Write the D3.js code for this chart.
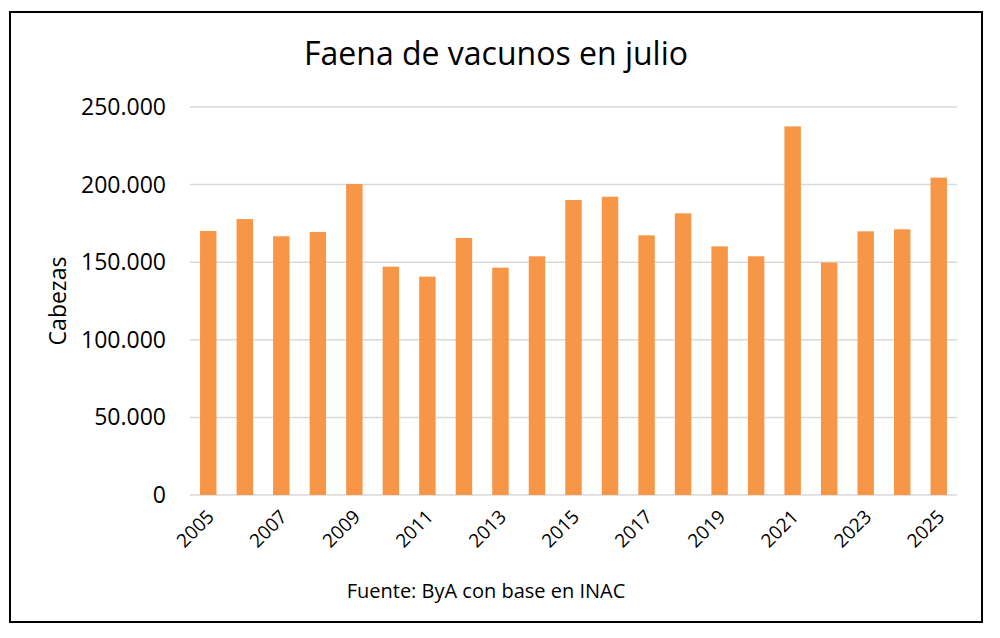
<html>
<head>
	<meta charset="utf-8">
	<script src="https://d3js.org/d3.v7.min.js"></script>
	<style>
		body { margin: 0; background: white; }
		text { font-family: "Open Sans", sans-serif; fill: #000; }
	</style>
</head>
<body>
	<div id="output"></div>
	<script>
		// data
		var years = ["2005","2006","2007","2008","2009","2010","2011","2012","2013","2014","2015",
			"2016","2017","2018","2019","2020","2021","2022","2023","2024","2025"];
		var cabezas = [170100,177800,166700,169500,200400,147100,140700,165600,146500,153800,190100,
			192200,167300,181500,160200,153800,237500,149800,169900,171200,204500];
		var yTicks = [0,50000,100000,150000,200000,250000];
		var yTickLabels = ["0","50.000","100.000","150.000","200.000","250.000"];
		var xLabelYears = ["2005","2007","2009","2011","2013","2015","2017","2019","2021","2023","2025"];

		var width = 1000, height = 638;
		var plotLeft = 190, plotRight = 957, plotTop = 107, plotBottom = 495;

		var svg = d3.select("#output")
			.append("svg")
			.attr("width", width)
			.attr("height", height);

		// frame
		svg.append("rect")
			.attr("x", 10)
			.attr("y", 12)
			.attr("width", 972)
			.attr("height", 610)
			.style("fill", "white")
			.style("stroke", "black")
			.style("stroke-width", 2);

		var x = d3.scaleBand()
			.domain(years)
			.range([plotLeft, plotRight])
			.paddingInner(0.55)
			.paddingOuter(0.275);
		var y = d3.scaleLinear()
			.domain([0, 250000])
			.range([plotBottom, plotTop]);

		// gridlines
		svg.selectAll("line.grid")
			.data(yTicks)
			.enter()
			.append("line")
			.attr("class", "grid")
			.attr("x1", plotLeft)
			.attr("x2", plotRight)
			.attr("y1", function(d){ return y(d); })
			.attr("y2", function(d){ return y(d); })
			.style("stroke", "#d9d9d9")
			.style("stroke-width", 1.5);

		// y labels
		svg.selectAll("text.ylab")
			.data(yTicks)
			.enter()
			.append("text")
			.attr("class", "ylab")
			.attr("x", 166)
			.attr("y", function(d){ return y(d) + 8; })
			.style("font-size", "23px")
			.style("text-anchor", "end")
			.text(function(d, i){ return yTickLabels[i]; });

		// bars
		svg.selectAll("rect.bar")
			.data(cabezas)
			.enter()
			.append("rect")
			.attr("class", "bar")
			.attr("x", function(d, i){ return x(years[i]); })
			.attr("y", function(d){ return y(d); })
			.attr("width", x.bandwidth())
			.attr("height", function(d){ return y(0) - y(d); })
			.style("fill", "#f79646");

		// x labels, every other year, rotated
		svg.selectAll("text.xlab")
			.data(xLabelYears)
			.enter()
			.append("text")
			.attr("class", "xlab")
			.attr("transform", function(d){
				var cx = x(d) + x.bandwidth()/2 + 7;
				return "translate(" + cx + ",518) rotate(-45)";
			})
			.style("font-size", "19px")
			.style("text-anchor", "end")
			.text(function(d){ return d; });

		// title
		svg.append("text")
			.attr("x", 496)
			.attr("y", 65)
			.style("font-size", "32px")
			.style("text-anchor", "middle")
			.text("Faena de vacunos en julio");

		// axis title
		svg.append("text")
			.attr("transform", "translate(66,301) rotate(-90)")
			.style("font-size", "23px")
			.style("text-anchor", "middle")
			.text("Cabezas");

		// source
		svg.append("text")
			.attr("x", 486)
			.attr("y", 598)
			.style("font-size", "20px")
			.style("text-anchor", "middle")
			.text("Fuente: ByA con base en INAC");
	</script>
</body>
</html>
